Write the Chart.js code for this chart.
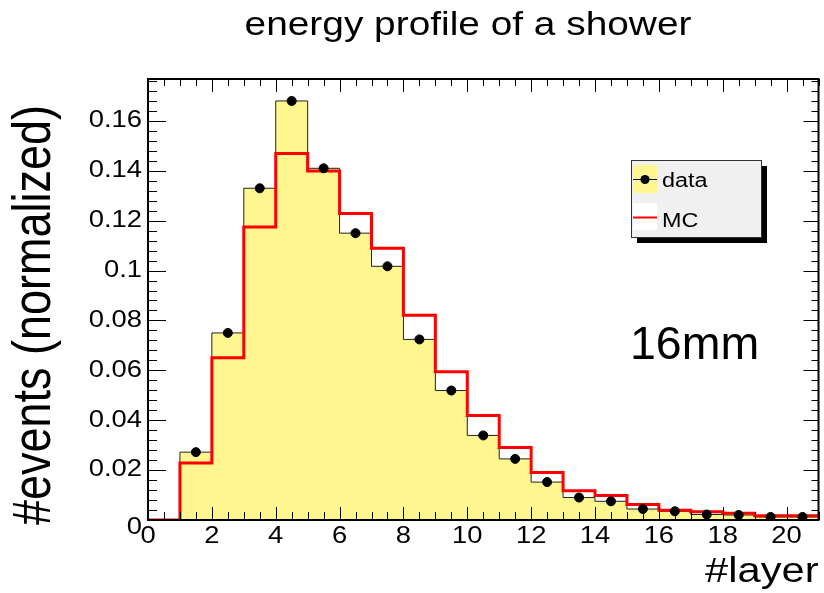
<!DOCTYPE html>
<html>
<head>
<meta charset="utf-8">
<title>energy profile of a shower</title>
<script src="https://cdn.jsdelivr.net/npm/chart.js@4.4.1/dist/chart.umd.min.js"></script>
<style>
  html, body { margin: 0; padding: 0; background: #fff; }
  #wrap { width: 824px; height: 593px; }
</style>
</head>
<body>
<div id="wrap"><canvas id="showerChart" width="824" height="593"></canvas></div>
<script>
// bin lower edges (layer number), one bin per layer
const layerEdges = [0, 1, 2, 3, 4, 5, 6, 7, 8, 9, 10, 11, 12, 13, 14, 15, 16, 17, 18, 19, 20, 21];

// normalized energy per layer
const dataValues = [0, 0.0272, 0.075, 0.133, 0.168, 0.141, 0.115, 0.1017, 0.0724, 0.0519, 0.0339,
                    0.0245, 0.0152, 0.009, 0.0075, 0.0044, 0.0035, 0.0022, 0.002, 0.0012, 0.0012];
const mcValues   = [0, 0.0229, 0.065, 0.1175, 0.1469, 0.1399, 0.1229, 0.1089, 0.0821, 0.0594, 0.0419,
                    0.0291, 0.019, 0.0117, 0.0098, 0.0062, 0.0039, 0.0033, 0.0027, 0.0017, 0.0017];

const xTicks = [0, 2, 4, 6, 8, 10, 12, 14, 16, 18, 20];
const yTicks = [0, 0.02, 0.04, 0.06, 0.08, 0.1, 0.12, 0.14, 0.16];

const font = '"Liberation Sans", Arial, Helvetica, sans-serif';
const sx = 1.19; // the ROOT picture was stretched sideways

// histogram outline: value of bin i holds from edge i to edge i+1
function histPoints(vals) {
  const pts = vals.map((v, i) => ({ x: layerEdges[i], y: v }));
  pts.push({ x: layerEdges[vals.length], y: vals[vals.length - 1] });
  return pts;
}

function wideText(ctx, text, x, y, size, align, baseline, scaleX) {
  ctx.save();
  ctx.translate(x, y);
  ctx.scale(scaleX, 1);
  ctx.font = size + 'px ' + font;
  ctx.textAlign = align;
  ctx.textBaseline = baseline;
  ctx.fillStyle = '#000';
  ctx.fillText(text, 0, 0);
  ctx.restore();
}

const rootStyle = {
  id: 'rootStyle',
  afterDatasetsDraw(chart) {
    const { ctx, chartArea: a, scales: { x, y } } = chart;
    ctx.save();
    ctx.strokeStyle = '#000';
    ctx.lineWidth = 1;
    ctx.beginPath();
    // x ticks, bottom and top, pointing in
    for (let k = 0; k <= 42; k++) {
      const px = Math.round(x.getPixelForValue(k * 0.5)) + 0.5;
      const major = k % 4 === 0;
      ctx.moveTo(px, a.bottom); ctx.lineTo(px, a.bottom - (major ? 13 : 8));
      ctx.moveTo(px, a.top); ctx.lineTo(px, a.top + (major ? 13 : 7));
    }
    // y ticks, left and right
    for (let k = 0; k <= 44; k++) {
      const py = Math.round(y.getPixelForValue(k * 0.004)) + 0.5;
      const major = k % 5 === 0;
      ctx.moveTo(a.left, py); ctx.lineTo(a.left + (major ? 18 : 9), py);
      ctx.moveTo(a.right, py); ctx.lineTo(a.right - (major ? 15 : 7), py);
    }
    ctx.stroke();
    ctx.lineWidth = 2;
    ctx.strokeRect(a.left, a.top, a.right - a.left, a.bottom - a.top);
    ctx.restore();

    // tick labels
    x.ticks.forEach(t => {
      wideText(ctx, String(t.value), x.getPixelForValue(t.value), a.bottom + 17, 23, 'center', 'middle', sx);
    });
    y.ticks.forEach(t => {
      const lbl = String(Number(t.value.toFixed(2)));
      const off = t.value === 0 ? 8 : 0;
      wideText(ctx, lbl, a.left - 6, y.getPixelForValue(t.value) + off, 23, 'right', 'middle', sx);
    });
  },
  afterDraw(chart) {
    const { ctx, chartArea: a } = chart;
    // title and axis titles
    wideText(ctx, 'energy profile of a shower', 468, 35, 32.5, 'center', 'alphabetic', 1.195);
    wideText(ctx, '#layer', a.right, 582, 35, 'right', 'alphabetic', sx);
    ctx.save();
    ctx.translate(50, 315);
    ctx.rotate(-Math.PI / 2);
    ctx.scale(1, 1.2);
    ctx.font = '45px ' + font;
    ctx.textAlign = 'center';
    ctx.textBaseline = 'alphabetic';
    ctx.fillStyle = '#000';
    ctx.fillText('#events (normalized)', 0, 0);
    ctx.restore();

    // plain label added on top of the plot
    ctx.save();
    ctx.font = '46.5px ' + font;
    ctx.fillStyle = '#000';
    ctx.textBaseline = 'alphabetic';
    ctx.fillText('16mm', 630, 359);
    ctx.restore();

    // legend box with shadow
    ctx.save();
    ctx.fillStyle = '#000';
    ctx.fillRect(637, 166, 130, 77);
    ctx.fillStyle = '#f0f0f0';
    ctx.fillRect(631, 160, 131, 78);
    ctx.strokeStyle = '#333';
    ctx.lineWidth = 1;
    ctx.strokeRect(631.5, 160.5, 130, 77);
    ctx.fillStyle = 'rgb(255,246,143)';
    ctx.fillRect(633, 165, 24, 28);
    ctx.fillStyle = '#fff';
    ctx.fillRect(633, 203, 24, 27);
    ctx.strokeStyle = '#000';
    ctx.beginPath();
    ctx.moveTo(633, 179.5); ctx.lineTo(657, 179.5);
    ctx.stroke();
    ctx.fillStyle = '#000';
    ctx.beginPath();
    ctx.arc(645, 179.5, 4.5, 0, Math.PI * 2);
    ctx.fill();
    ctx.strokeStyle = '#ff0000';
    ctx.lineWidth = 2;
    ctx.beginPath();
    ctx.moveTo(633, 217.5); ctx.lineTo(657, 217.5);
    ctx.stroke();
    ctx.restore();
    wideText(ctx, 'data', 662, 187, 19.5, 'left', 'alphabetic', 1.2);
    wideText(ctx, 'MC', 662, 227, 19.5, 'left', 'alphabetic', 1.2);
  }
};

const chart = new Chart(document.getElementById('showerChart'), {
  type: 'line',
  data: {
    datasets: [
      {
        label: 'data points',
        type: 'scatter',
        data: dataValues.map((v, i) => ({ x: layerEdges[i] + 0.5, y: v })).filter(p => p.y > 0),
        backgroundColor: '#000',
        borderColor: '#000',
        pointRadius: 4.5,
        order: 1
      },
      {
        label: 'MC',
        data: histPoints(mcValues),
        stepped: 'before',
        borderColor: '#ff0000',
        borderWidth: 3,
        pointRadius: 0,
        fill: false,
        order: 2
      },
      {
        label: 'data',
        data: histPoints(dataValues),
        stepped: 'before',
        borderColor: '#222',
        borderWidth: 1,
        backgroundColor: 'rgb(255,246,143)',
        pointRadius: 0,
        fill: 'origin',
        order: 3
      }
    ]
  },
  options: {
    responsive: false,
    animation: false,
    devicePixelRatio: 1,
    layout: { padding: { left: 0, top: 79, right: 5, bottom: 0 } },
    plugins: {
      legend: { display: false },
      tooltip: { enabled: false },
      title: { display: false }
    },
    scales: {
      x: {
        type: 'linear',
        min: 0,
        max: 21,
        grid: { display: false },
        border: { display: false },
        ticks: { display: false },
        afterBuildTicks: s => { s.ticks = xTicks.map(v => ({ value: v })); },
        afterFit: s => { s.height = 73; }
      },
      y: {
        type: 'linear',
        min: 0,
        max: 0.1768,
        grid: { display: false },
        border: { display: false },
        ticks: { display: false },
        afterBuildTicks: s => { s.ticks = yTicks.map(v => ({ value: v })); },
        afterFit: s => { s.width = 148; }
      }
    }
  },
  plugins: [rootStyle]
});
</script>
</body>
</html>
